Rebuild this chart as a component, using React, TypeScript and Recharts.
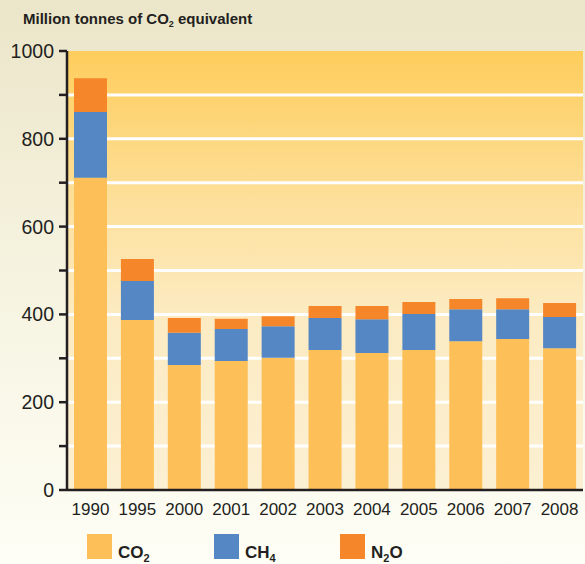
import { BarChart, Bar, XAxis, YAxis, CartesianGrid } from "recharts";

const years = ["1990", "1995", "2000", "2001", "2002", "2003", "2004", "2005", "2006", "2007", "2008"];
const co2 = [711, 387, 285, 294, 301, 319, 312, 319, 339, 344, 323];
const ch4 = [150, 89, 73, 73, 72, 73, 77, 82, 73, 68, 71];
const n2o = [77, 50, 34, 23, 23, 27, 30, 27, 23, 25, 32];
const yTicks = [0, 100, 200, 300, 400, 500, 600, 700, 800, 900, 1000];
const gridValues = [100, 200, 300, 400, 500, 600, 700, 800, 900];

const INK = "#231f20";

// legend text is split so the subscript digit can be drawn smaller
const series = [
  { key: "co2", color: "#fdbf57", text: ["CO", "2", ""], x: 87 },
  { key: "ch4", color: "#5587c5", text: ["CH", "4", ""], x: 214 },
  { key: "n2o", color: "#f5862a", text: ["N", "2", "O"], x: 340 },
];

const data = years.map((year, i) => ({
  year,
  co2: co2[i],
  ch4: ch4[i],
  n2o: n2o[i],
}));

export default function App() {
  return (
    <div
      style={{
        position: "fixed",
        left: 0,
        top: 0,
        width: 585,
        height: 564,
        background: "linear-gradient(#ebe6c9 0%, #f6f3e0 50%, #fefef6 100%)",
        fontFamily: "'Liberation Sans', Arial, sans-serif",
      }}
    >
      <svg width={0} height={0} style={{ position: "absolute" }}>
        <defs>
          <linearGradient id="plotGrad" x1="0" y1="0" x2="0" y2="1">
            <stop offset="0%" stopColor="#fecd5c" />
            <stop offset="35%" stopColor="#fde09c" />
            <stop offset="60%" stopColor="#fcebc2" />
            <stop offset="100%" stopColor="#fcf0d3" />
          </linearGradient>
        </defs>
      </svg>
      <BarChart
        width={585}
        height={564}
        data={data}
        margin={{ top: 51, right: 2, left: 0, bottom: 40 }}
        barSize={33}
      >
        <CartesianGrid
          vertical={false}
          horizontalValues={gridValues}
          stroke="#ffffff"
          strokeWidth={3}
          fill="url(#plotGrad)"
          fillOpacity={1}
        />
        <XAxis
          dataKey="year"
          height={34}
          tickSize={0}
          tickMargin={13}
          tickLine={false}
          axisLine={{ stroke: INK, strokeWidth: 2.5 }}
          tick={{ fontSize: 17, fill: INK }}
          interval={0}
        />
        <YAxis
          width={67}
          domain={[0, 1000]}
          ticks={yTicks}
          interval={0}
          tickSize={8}
          tickMargin={5}
          tickLine={{ stroke: INK, strokeWidth: 2.5 }}
          axisLine={{ stroke: INK, strokeWidth: 2.5 }}
          tick={{ fontSize: 19.5, fill: INK }}
          tickFormatter={(v: number) => (v % 200 === 0 ? String(v) : "")}
        />
        <Bar dataKey="co2" stackId="a" fill={series[0].color} isAnimationActive={false} />
        <Bar dataKey="ch4" stackId="a" fill={series[1].color} isAnimationActive={false} />
        <Bar dataKey="n2o" stackId="a" fill={series[2].color} isAnimationActive={false} />
      </BarChart>

      <svg
        width={585}
        height={564}
        style={{ position: "absolute", left: 0, top: 0, pointerEvents: "none" }}
      >
        <text x={23} y={23.5} fontSize={15} fontWeight="bold" fill={INK}>
          Million tonnes of CO
          <tspan fontSize={9} dy={3.4}>2</tspan>
          <tspan dy={-3.4}> equivalent</tspan>
        </text>
        {series.map((s) => (
          <g key={s.key}>
            <rect x={s.x} y={534} width={25} height={25} fill={s.color} />
            <text x={s.x + 31} y={558} fontSize={17} fontWeight="bold" fill={INK}>
              {s.text[0]}
              <tspan fontSize={11} dy={3.7}>{s.text[1]}</tspan>
              {s.text[2] ? <tspan dy={-3.7}>{s.text[2]}</tspan> : null}
            </text>
          </g>
        ))}
      </svg>
    </div>
  );
}
